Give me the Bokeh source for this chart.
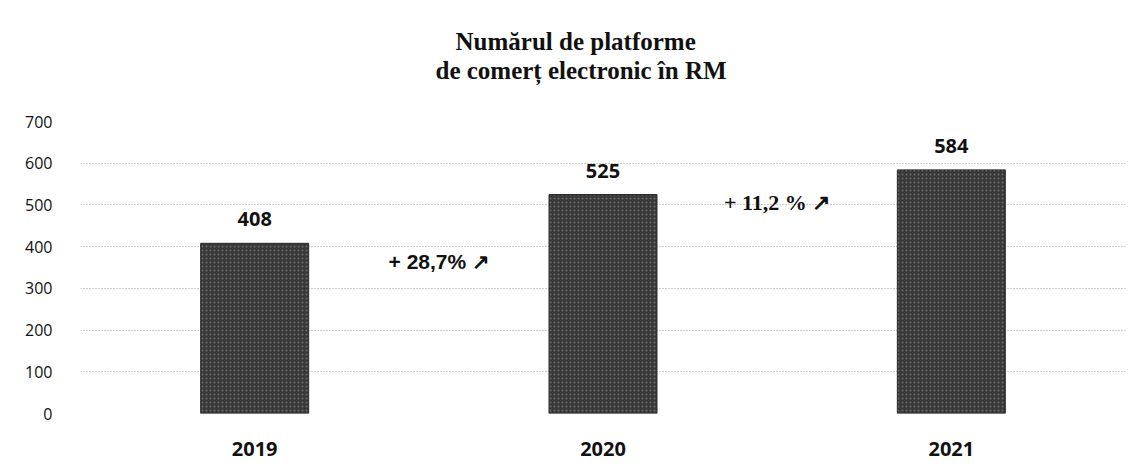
from bokeh.plotting import figure
from bokeh.models import ColumnDataSource, Range1d, FactorRange, SingleIntervalTicker, Title
from bokeh.core.properties import value
from bokeh.embed import file_html
from bokeh.resources import INLINE

years = ["2019", "2020", "2021"]
counts = [408, 525, 584]
growth_labels = ["+ 28,7% \u2197", "+ 11,2 % \u2197"]
title_lines = ["Numărul de platforme", "de comerț electronic în RM"]

src = ColumnDataSource(dict(x=years, top=counts, label=[str(v) for v in counts]))

p = figure(x_range=FactorRange(*years), y_range=Range1d(0, 700),
           frame_width=1045, frame_height=292, output_backend="svg", toolbar_location=None,
           min_border_left=80, min_border_right=5, min_border_bottom=52, min_border_top=121)

p.title = None
spacer = Title(text=" ", text_font_size="23px", standoff=10)
t2 = Title(text=title_lines[1], align="left", text_font="Liberation Serif", text_font_style="bold",
           text_font_size="25px", text_color="#111111", standoff=0, offset=355)
t1 = Title(text=title_lines[0], align="left", text_font="Liberation Serif", text_font_style="bold",
           text_font_size="25px", text_color="#111111", standoff=0, offset=375)
p.add_layout(spacer, "above")
p.add_layout(t2, "above")
p.add_layout(t1, "above")

p.vbar(x="x", top="top", width=0.31, source=src, fill_color="#383838",
       line_color="#2a2a2a", hatch_pattern="dot", hatch_color="#6a6a6a", hatch_scale=4, hatch_weight=1)

p.text(x="x", y="top", text="label", source=src, text_align="center", text_baseline="bottom",
       y_offset=-17, text_font=value("Open Sans"), text_font_style="bold", text_font_size="20px",
       text_color="#111111")

p.text(x=[1.03], y=[364], text=growth_labels[:1], text_align="center", text_baseline="middle",
       text_font=value("Liberation Sans"), text_font_style="bold", text_font_size="21px",
       text_color="#111111")
p.text(x=[2.0], y=[506], text=growth_labels[1:], text_align="center", text_baseline="middle",
       text_font=value("Liberation Serif"), text_font_style="bold", text_font_size="22px",
       text_color="#111111")

p.yaxis.ticker = SingleIntervalTicker(interval=100)
p.yaxis.axis_line_color = None
p.yaxis.major_tick_line_color = None
p.yaxis.minor_tick_line_color = None
p.yaxis.major_label_text_font = "Open Sans"
p.yaxis.major_label_text_font_size = "16px"
p.yaxis.major_label_text_color = "#111111"
p.yaxis.major_label_standoff = 22

p.xaxis.axis_line_color = None
p.xaxis.major_tick_line_color = None
p.xaxis.major_label_text_font = "Open Sans"
p.xaxis.major_label_text_font_style = "bold"
p.xaxis.major_label_text_font_size = "20px"
p.xaxis.major_label_text_color = "#111111"
p.xaxis.major_label_standoff = 22

p.xgrid.grid_line_color = None
p.ygrid.grid_line_color = "#9a9a9a"
p.ygrid.grid_line_dash = "1 2"
p.ygrid.grid_line_width = 1
p.outline_line_color = None

p.border_fill_color = "white"
p.background_fill_color = "white"

open("out.html", "w").write(file_html(p, INLINE))
